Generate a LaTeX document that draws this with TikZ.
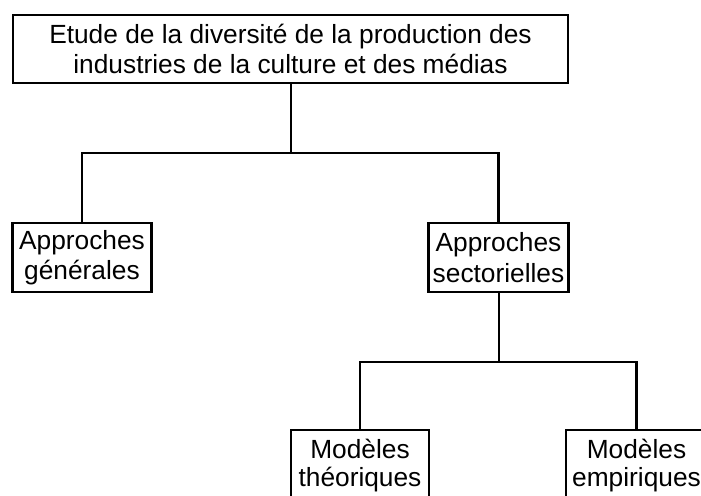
\documentclass[tikz,border=0pt]{standalone}
\usepackage{fontspec}
\setmainfont{Liberation Sans}
\begin{document}
\begin{tikzpicture}[x=1pt,y=-1pt,
  every node/.style={font=\fontsize{26.3}{30.5}\selectfont},
  box/.style={draw=black, line width=2.6pt, rectangle, align=center, inner sep=0pt},
  lowbox/.style={box, font=\fontsize{26.3}{28}\selectfont, minimum height=72pt},
  wire/.style={draw=black, line width=2.6pt}]
\useasboundingbox (0,0) rectangle (701,495);
\begin{scope}
\clip (0,0) rectangle (701,495);
\node[box, minimum width=555pt, minimum height=68pt] (top) at (290.5,49)
  {Etude de la diversité de la production des\\industries de la culture et des médias};
\node[box, minimum width=139pt, minimum height=69pt] (gen) at (82,257.5)
  {Approches\\générales};
\node[box, minimum width=140pt, minimum height=69pt] (sec) at (498.5,257.5)
  {Approches\\sectorielles};
\node[lowbox, minimum width=138pt] (theo) at (360,466)
  {Modèles\\théoriques};
\node[lowbox, minimum width=141pt] (emp) at (636.5,466)
  {Modèles\\empiriques};
\coordinate (bus1) at (291,153);
\coordinate (bus2) at (499,362);
\draw[wire] (top.south -| bus1) -- (bus1);
\draw[wire] (gen.north) -- (gen.north |- bus1) -- (sec.north |- bus1) -- (sec.north);
\draw[wire] (sec.south -| bus2) -- (bus2);
\draw[wire] (theo.north) -- (theo.north |- bus2) -- (emp.north |- bus2) -- (emp.north);
\end{scope}
\end{tikzpicture}
\end{document}
